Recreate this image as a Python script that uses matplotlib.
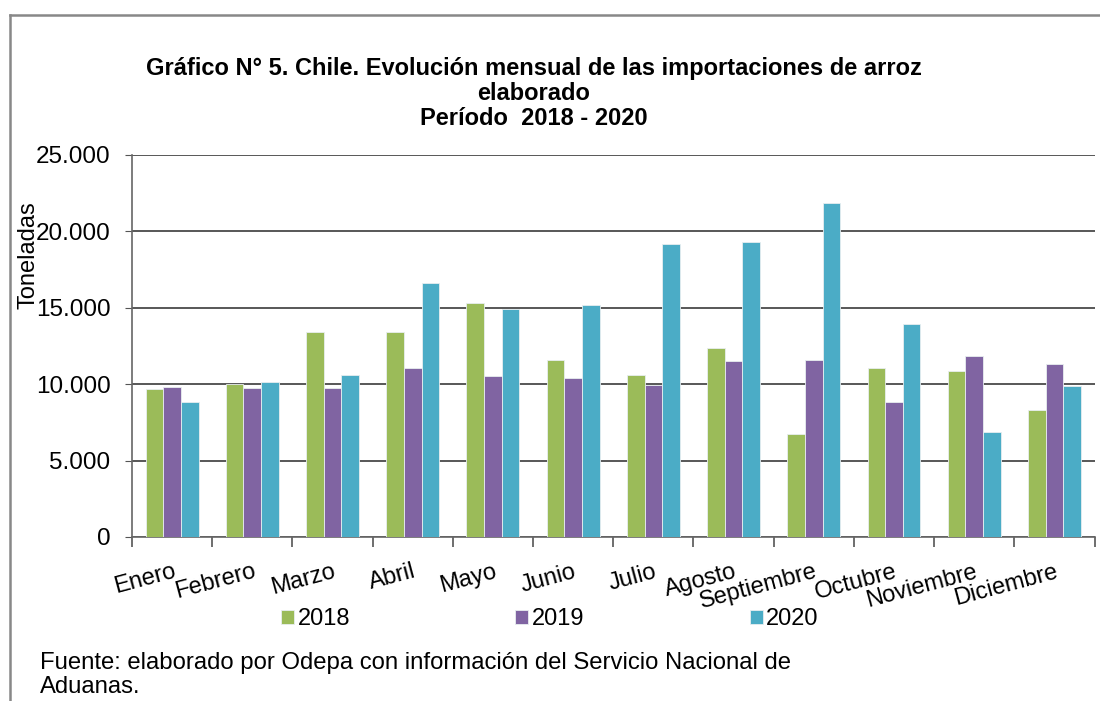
import numpy as np
import matplotlib
matplotlib.use("Agg")
import matplotlib.pyplot as plt
from matplotlib.lines import Line2D
from matplotlib.ticker import FuncFormatter, FixedLocator

plt.rcParams['font.family'] = ['Liberation Sans', 'DejaVu Sans']

meses = ['Enero', 'Febrero', 'Marzo', 'Abril', 'Mayo', 'Junio', 'Julio',
         'Agosto', 'Septiembre', 'Octubre', 'Noviembre', 'Diciembre']
v2018 = [9650, 10030, 13420, 13420, 15330, 11580, 10580, 12370, 6760, 11080, 10840, 8330]
v2019 = [9800, 9750, 9730, 11080, 10560, 10430, 9950, 11520, 11580, 8840, 11850, 11320]
v2020 = [8810, 10120, 10580, 16620, 14940, 15160, 19180, 19290, 21840, 13940, 6850, 9880]
years = ['2018', '2019', '2020']
colors = ['#9BBB59', '#8064A2', '#4BACC6']

fig = plt.figure(figsize=(11, 7.01), dpi=100)
ax = fig.add_axes([0.12, 0.234, 0.875, 0.545])

x = np.arange(len(meses))
w = 0.22
handles = []
for i, (vals, c) in enumerate(zip([v2018, v2019, v2020], colors)):
    b = ax.bar(x + (i - 1) * w, vals, w, color=c, edgecolor='#e8eef0', linewidth=0.6,
               label=years[i], zorder=3)
    handles.append(b)

ax.set_xlim(-0.5, len(meses) - 0.5)
ax.set_ylim(0, 25000)
ax.set_yticks(np.arange(0, 25001, 5000))
ax.yaxis.set_major_formatter(FuncFormatter(lambda v, p: '0' if v == 0 else f'{int(v):,}'.replace(',', '.')))
ax.grid(axis='y', color='#2a2a2a', linewidth=1.1, zorder=0)
ax.tick_params(axis='y', labelsize=17.5, length=5, color='#555555', pad=10.5)

ax.xaxis.set_major_locator(FixedLocator(x))
ax.set_xticklabels(meses, rotation=15, ha='right', rotation_mode='anchor', fontsize=17)
ax.xaxis.set_minor_locator(FixedLocator(np.arange(-0.5, len(meses), 1)))
ax.tick_params(axis='x', which='major', length=0, pad=17)
ax.tick_params(axis='x', which='minor', length=7, color='#555555', width=1.2)

for s in ['top', 'right']:
    ax.spines[s].set_visible(False)
for s in ['left', 'bottom']:
    ax.spines[s].set_color('#666666')
    ax.spines[s].set_linewidth(1.2)

fig.text(0.026, 0.636, 'Toneladas', rotation=90, fontsize=17, ha='center', va='center')

fig.text(0.485, 0.867, 'Gráfico N° 5. Chile. Evolución mensual de las importaciones de arroz\nelaborado\nPeríodo  2018 - 2020',
         ha='center', va='center', fontsize=17, fontweight='bold', linespacing=1.1)

fig.legend(handles=handles, labels=years, loc='center', bbox_to_anchor=(0.5, 0.117), ncol=3,
           frameon=False, fontsize=17, handlelength=0.55, handleheight=0.55, handletextpad=0.15,
           columnspacing=7.0)

fig.text(0.036, 0.037, 'Fuente: elaborado por Odepa con información del Servicio Nacional de\nAduanas.',
         ha='left', va='center', fontsize=17.2, linespacing=1.13)

fig.add_artist(Line2D([0.009, 1.0], [0.979, 0.979], color='#888888', linewidth=1.8))
fig.add_artist(Line2D([0.009, 0.009], [0.0, 0.979], color='#888888', linewidth=1.8))

fig.savefig('out.png', dpi=100)
